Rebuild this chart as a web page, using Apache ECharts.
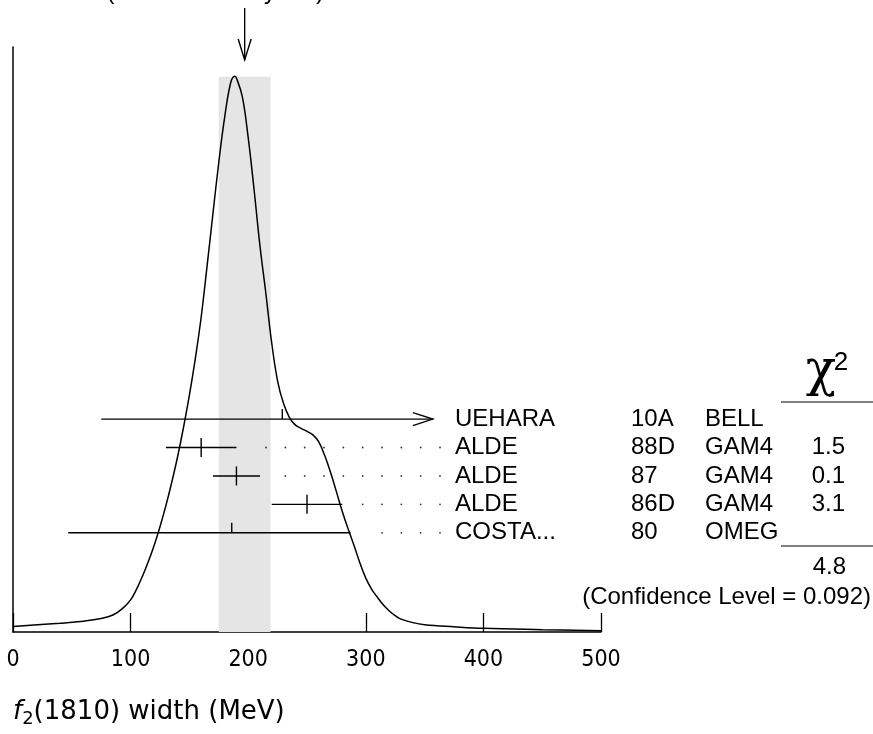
<!DOCTYPE html>
<html>
<head>
<meta charset="utf-8">
<script src="https://cdn.jsdelivr.net/npm/echarts@6/dist/echarts.min.js"></script>
<style>
  html, body { margin: 0; padding: 0; background: #fff; }
  #chart { width: 873px; height: 734px; }
</style>
</head>
<body>
<div id="chart"></div>
<script>
// ideogram curve (x in MeV, height in % of the axis)
const curveX = [0, 40, 60, 75, 85, 93, 100, 105, 110, 115, 120, 125, 130, 135, 140, 145, 150,
  155, 160, 165, 170, 175, 180, 185, 188.5, 190, 195, 200, 205, 210, 215, 220, 225, 230, 235,
  240, 245, 250, 255, 260, 265, 270, 275, 280, 285, 290, 295, 300, 305, 310, 315, 320, 325,
  330, 340, 350, 375, 400, 450, 500];
const curveY = [0.94, 1.5, 1.85, 2.3, 2.9, 4.0, 5.5, 7.3, 9.5, 12.0, 14.8, 18.0, 21.6, 25.6,
  30.0, 35.0, 40.5, 46.7, 53.8, 62.5, 71.5, 80.3, 88.0, 93.8, 95.0, 94.7, 91.5, 84.5, 75.6,
  66.0, 57.9, 49.4, 42.9, 39.1, 36.7, 35.4, 34.8, 34.3, 33.7, 32.5, 30.2, 27.3, 24.0, 20.6,
  17.6, 14.8, 11.8, 9.2, 7.3, 5.9, 4.6, 3.6, 2.8, 2.2, 1.6, 1.25, 0.9, 0.63, 0.4, 0.22];

// measurements
const authors = ['UEHARA', 'ALDE', 'ALDE', 'ALDE', 'COSTA...'];
const years = ['10A', '88D', '87', '86D', '80'];
const experiments = ['BELL', 'GAM4', 'GAM4', 'GAM4', 'OMEG'];
const values = [229, 160, 190, 250, 186];
const lows = [75, 130, 170, 220, 47];
const highs = [357, 190, 210, 280, 287];
const arrowRight = [true, false, false, false, false];
const usedInAverage = [false, true, true, true, false];
const chiSquared = ['', '1.5', '0.1', '3.1', ''];

const xTicks = [0, 100, 200, 300, 400, 500];
const average = 197;
const averageError = 22;
const errorScale = '1.5';
const chiTotal = '4.8';
const confidenceLevel = '0.092';

const FONT = "'Liberation Sans', Arial, sans-serif";
const AXIS_FONT = "'DejaVu Sans Condensed', 'DejaVu Sans', sans-serif";
const TITLE_FONT = "'DejaVu Sans', sans-serif";

const chart = echarts.init(document.getElementById('chart'));

const curveData = curveX.map((x, i) => [x, curveY[i]]);
const rowData = authors.map((a, i) => [i, values[i], lows[i], highs[i]]);

function txt(text, x, y, align, font) {
  return {
    type: 'text',
    style: {
      text, x, y, font: font || `24px ${FONT}`, fill: '#000',
      align: align || 'left', verticalAlign: 'middle',
      textAlign: align || 'left', textVerticalAlign: 'middle',
    },
  };
}

function renderRow(params, api) {
  const i = params.dataIndex;
  const row = api.value(0);
  const mid = api.coord([api.value(1), row]);
  const lo = api.coord([api.value(2), row]);
  const hi = api.coord([api.value(3), row]);
  const y = mid[1];
  const stroke = { stroke: '#000', lineWidth: 1.4 };
  const children = [
    { type: 'line', shape: { x1: lo[0], y1: y, x2: hi[0], y2: y }, style: stroke },
  ];
  if (arrowRight[i]) {
    children.push({
      type: 'polyline',
      shape: { points: [[hi[0] - 20, y - 6.5], [hi[0], y], [hi[0] - 20, y + 6.5]] },
      style: { stroke: '#000', lineWidth: 1.4, fill: null },
    });
  } else {
    // dotted leader to the labels
    for (let x = 440; x > hi[0] + 15; x -= 19.33) {
      children.push({ type: 'circle', shape: { cx: x, cy: y, r: 0.9 }, style: { fill: '#333' } });
    }
  }
  if (usedInAverage[i]) {
    children.push({ type: 'line', shape: { x1: mid[0], y1: y - 9.5, x2: mid[0], y2: y + 9.5 }, style: stroke });
  } else {
    children.push({ type: 'line', shape: { x1: mid[0], y1: y - 10, x2: mid[0], y2: y }, style: stroke });
  }
  children.push(txt(authors[i], 455, y));
  children.push(txt(years[i], 631, y));
  children.push(txt(experiments[i], 705, y));
  if (chiSquared[i]) children.push(txt(chiSquared[i], 845, y, 'right'));
  return { type: 'group', children };
}

chart.setOption({
  animation: false,
  grid: { left: 13, right: 272, top: 47, bottom: 102, containLabel: false },
  xAxis: {
    type: 'value',
    min: 0,
    max: 500,
    interval: 100,
    axisLine: { show: true, lineStyle: { color: '#000', width: 1.5 } },
    axisTick: { show: true, inside: true, length: 19, lineStyle: { color: '#000', width: 1.3 } },
    axisLabel: {
      margin: 17,
      fontFamily: AXIS_FONT,
      fontSize: 23,
      color: '#000',
      formatter: (v) => (xTicks.includes(v) ? String(v) : ''),
    },
    splitLine: { show: false },
  },
  yAxis: [
    {
      type: 'value',
      min: 0,
      max: 100,
      axisLine: { show: true, lineStyle: { color: '#000', width: 1.5 } },
      axisTick: { show: false },
      axisLabel: { show: false },
      splitLine: { show: false },
    },
    {
      type: 'value',
      inverse: true,
      min: -13.09,
      max: 7.49,
      show: false,
      splitLine: { show: false },
    },
  ],
  series: [
    {
      type: 'line',
      data: curveData,
      showSymbol: false,
      smooth: 0.4,
      lineStyle: { color: '#000', width: 1.5 },
      z: 3,
      markArea: {
        silent: true,
        itemStyle: { color: '#e5e5e5' },
        data: [[
          { xAxis: average - averageError, yAxis: 0 },
          { xAxis: average + averageError, yAxis: 94.9 },
        ]],
      },
    },
    {
      type: 'custom',
      xAxisIndex: 0,
      yAxisIndex: 1,
      clip: false,
      renderItem: renderRow,
      encode: { x: [1, 2, 3], y: 0 },
      data: rowData,
      z: 4,
    },
  ],
});

// arrow for the weighted average, chi-square column, axis title
const ax = chart.convertToPixel({ xAxisIndex: 0 }, average);
chart.setOption({
  graphic: [
    { type: 'line', shape: { x1: ax, y1: 8, x2: ax, y2: 60 }, style: { stroke: '#000', lineWidth: 1.4 } },
    {
      type: 'polyline',
      shape: { points: [[ax - 6.5, 39], [ax, 60], [ax + 6.5, 39]] },
      style: { stroke: '#000', lineWidth: 1.4, fill: null },
    },
    txt(`${average}±${averageError} (Error scaled by ${errorScale})`, 324, -8, 'right'),
    txt('χ', 821, 372, 'center', `50px 'DejaVu Serif', serif`),
    txt('2', 841, 363, 'center', `26px ${FONT}`),
    { type: 'line', shape: { x1: 781, y1: 402, x2: 873, y2: 402 }, style: { stroke: '#000', lineWidth: 1.2 } },
    { type: 'line', shape: { x1: 781, y1: 546, x2: 873, y2: 546 }, style: { stroke: '#000', lineWidth: 1.2 } },
    txt(chiTotal, 846, 567, 'right'),
    txt(`(Confidence Level = ${confidenceLevel})`, 871, 597, 'right'),
    {
      type: 'text',
      style: {
        text: '{i|f}{s|2}(1810) width (MeV)',
        x: 13,
        y: 712,
        font: `26px ${TITLE_FONT}`,
        fill: '#000',
        verticalAlign: 'middle',
        textVerticalAlign: 'middle',
        rich: {
          i: { fontStyle: 'italic', fontFamily: TITLE_FONT, fontSize: 26, fill: '#000' },
          s: { fontFamily: TITLE_FONT, fontSize: 18, fill: '#000', padding: [14, 0, 0, 0] },
        },
      },
    },
  ],
});
</script>
</body>
</html>
